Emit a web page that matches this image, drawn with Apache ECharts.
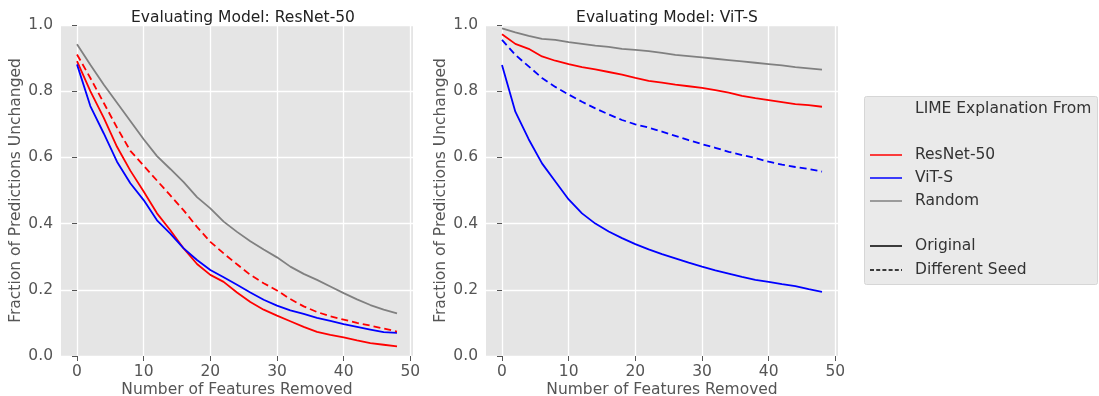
<!DOCTYPE html>
<html>
<head>
<meta charset="utf-8">
<script src="https://cdn.jsdelivr.net/npm/echarts@6/dist/echarts.min.js"></script>
<style>
  html, body { margin: 0; padding: 0; background: #fff; }
  #chart { width: 1099px; height: 396px; }
</style>
</head>
<body>
<div id="chart"></div>
<script>
// features removed (x)
var featuresRemoved = [0, 2, 4, 6, 8, 10, 12, 14, 16, 18, 20, 22, 24, 26, 28, 30, 32, 34, 36, 38, 40, 42, 44, 46, 48];

// Evaluating model: ResNet-50
var resnetEvalResnet = [0.891, 0.80, 0.72, 0.632, 0.56, 0.497, 0.431, 0.38, 0.325, 0.278, 0.245, 0.224, 0.192, 0.163, 0.14, 0.122, 0.105, 0.088, 0.073, 0.064, 0.056, 0.047, 0.039, 0.034, 0.029];
var resnetEvalVit = [0.881, 0.755, 0.673, 0.587, 0.522, 0.471, 0.41, 0.37, 0.325, 0.29, 0.26, 0.238, 0.215, 0.192, 0.17, 0.152, 0.138, 0.127, 0.115, 0.106, 0.096, 0.088, 0.08, 0.072, 0.07];
var resnetEvalRandom = [0.942, 0.88, 0.82, 0.765, 0.71, 0.655, 0.604, 0.565, 0.525, 0.48, 0.446, 0.406, 0.375, 0.347, 0.322, 0.298, 0.27, 0.248, 0.23, 0.21, 0.19, 0.171, 0.154, 0.14, 0.129];
var resnetEvalResnetSeed = [0.911, 0.84, 0.765, 0.69, 0.62, 0.575, 0.53, 0.485, 0.44, 0.39, 0.345, 0.31, 0.277, 0.245, 0.22, 0.198, 0.172, 0.15, 0.133, 0.12, 0.11, 0.1, 0.092, 0.083, 0.074];

// Evaluating model: ViT-S
var vitEvalResnet = [0.972, 0.943, 0.928, 0.905, 0.892, 0.882, 0.873, 0.866, 0.858, 0.85, 0.84, 0.831, 0.826, 0.82, 0.815, 0.81, 0.803, 0.796, 0.786, 0.779, 0.773, 0.767, 0.761, 0.758, 0.753];
var vitEvalVit = [0.879, 0.738, 0.655, 0.582, 0.527, 0.473, 0.431, 0.4, 0.376, 0.356, 0.338, 0.322, 0.308, 0.295, 0.282, 0.27, 0.259, 0.249, 0.239, 0.23, 0.224, 0.217, 0.211, 0.202, 0.194];
var vitEvalRandom = [0.99, 0.978, 0.967, 0.958, 0.955, 0.948, 0.943, 0.938, 0.934, 0.928, 0.925, 0.921, 0.916, 0.91, 0.906, 0.902, 0.898, 0.894, 0.89, 0.886, 0.882, 0.878, 0.873, 0.869, 0.865];
var vitEvalVitSeed = [0.955, 0.91, 0.875, 0.84, 0.813, 0.79, 0.768, 0.748, 0.73, 0.713, 0.7, 0.69, 0.678, 0.665, 0.652, 0.64, 0.629, 0.617, 0.607, 0.598, 0.587, 0.578, 0.571, 0.565, 0.557];

var xTicks = [0, 10, 20, 30, 40, 50];
var yTicks = [0, 0.2, 0.4, 0.6, 0.8, 1.0];

var titles = ['Evaluating Model: ResNet-50', 'Evaluating Model: ViT-S'];

var RED = '#ff0000', BLUE = '#0000ff', GRAY = '#808080';
var FONT = 'DejaVu Sans';
var FS = 15.5;

function pairs(ys) {
  return featuresRemoved.map(function (x, i) { return [x, ys[i]]; });
}

function xAxisFor(idx) {
  return {
    type: 'value', gridIndex: idx, min: -2.4, max: 50.4,
    name: 'Number of Features Removed', nameLocation: 'middle', nameGap: 26, nameMoveOverlap: false,
    nameTextStyle: { color: '#555', fontSize: FS, fontFamily: FONT },
    axisLine: { show: false },
    axisTick: { show: true, length: 5, customValues: xTicks, lineStyle: { color: '#555', width: 1 } },
    axisLabel: { customValues: xTicks, color: '#555', fontSize: FS, fontFamily: FONT, margin: 8 },
    splitLine: { show: true, lineStyle: { color: '#fff', width: 1.3 } }
  };
}

function yAxisFor(idx) {
  return {
    type: 'value', gridIndex: idx, min: 0, max: 1,
    name: 'Fraction of Predictions Unchanged', nameLocation: 'middle', nameGap: 37, nameMoveOverlap: false,
    nameTextStyle: { color: '#555', fontSize: FS, fontFamily: FONT },
    axisLine: { show: false },
    axisTick: { show: true, length: 5, customValues: yTicks, lineStyle: { color: '#555', width: 1 } },
    axisLabel: { customValues: yTicks, color: '#555', fontSize: FS, fontFamily: FONT, margin: 8,
      formatter: function (v) { return v.toFixed(1); } },
    splitLine: { show: true, lineStyle: { color: '#fff', width: 1.3 } }
  };
}

function line(idx, name, ys, color, dashed) {
  return {
    type: 'line', name: name, xAxisIndex: idx, yAxisIndex: idx,
    data: pairs(ys), showSymbol: false, symbol: 'none', animation: false,
    lineStyle: { color: color, width: 1.8, type: dashed ? [7, 4] : 'solid' }
  };
}

// legend drawn by hand (header row + blank spacer rows, like matplotlib)
var legendRows = [
  { y: 109, text: 'LIME Explanation From' },
  { y: 155, text: 'ResNet-50', color: RED },
  { y: 178, text: 'ViT-S', color: BLUE },
  { y: 201, text: 'Random', color: GRAY },
  { y: 246, text: 'Original', color: '#000' },
  { y: 270, text: 'Different Seed', color: '#000', dashed: true }
];
var legendGraphic = [{
  type: 'rect', shape: { x: 864.5, y: 96.5, width: 233, height: 188, r: 2 },
  style: { fill: '#eaeaea', stroke: '#d6d6d6', lineWidth: 1 }
}];
legendRows.forEach(function (r) {
  legendGraphic.push({
    type: 'text', x: 915, y: r.y,
    style: { text: r.text, fill: '#333', font: FS + 'px "DejaVu Sans"', textVerticalAlign: 'middle' }
  });
  if (r.color) {
    legendGraphic.push({
      type: 'line', shape: { x1: 870, y1: r.y, x2: 902, y2: r.y },
      style: { stroke: r.color, lineWidth: 1.5, lineDash: r.dashed ? [4, 2.2] : null }
    });
  }
});

var chart = echarts.init(document.getElementById('chart'), null, { renderer: 'canvas' });
chart.setOption({
  backgroundColor: '#fff',
  animation: false,
  title: titles.map(function (t, i) {
    return { text: t, left: i === 0 ? 238 : 662, top: 5, textAlign: 'center',
      textStyle: { color: '#222', fontSize: FS, fontWeight: 'normal', fontFamily: FONT } };
  }),
  grid: [
    { left: 61, top: 25, width: 352, height: 331, show: true, backgroundColor: '#e5e5e5', borderWidth: 0, outerBoundsMode: 'none', containLabel: false },
    { left: 486, top: 25, width: 352, height: 331, show: true, backgroundColor: '#e5e5e5', borderWidth: 0, outerBoundsMode: 'none', containLabel: false }
  ],
  xAxis: [xAxisFor(0), xAxisFor(1)],
  yAxis: [yAxisFor(0), yAxisFor(1)],
  series: [
    line(0, 'ResNet-50', resnetEvalResnet, RED, false),
    line(0, 'ViT-S', resnetEvalVit, BLUE, false),
    line(0, 'Random', resnetEvalRandom, GRAY, false),
    line(0, 'ResNet-50 (seed)', resnetEvalResnetSeed, RED, true),
    line(1, 'ResNet-50', vitEvalResnet, RED, false),
    line(1, 'ViT-S', vitEvalVit, BLUE, false),
    line(1, 'Random', vitEvalRandom, GRAY, false),
    line(1, 'ViT-S (seed)', vitEvalVitSeed, BLUE, true)
  ],
  graphic: legendGraphic
});
</script>
</body>
</html>
